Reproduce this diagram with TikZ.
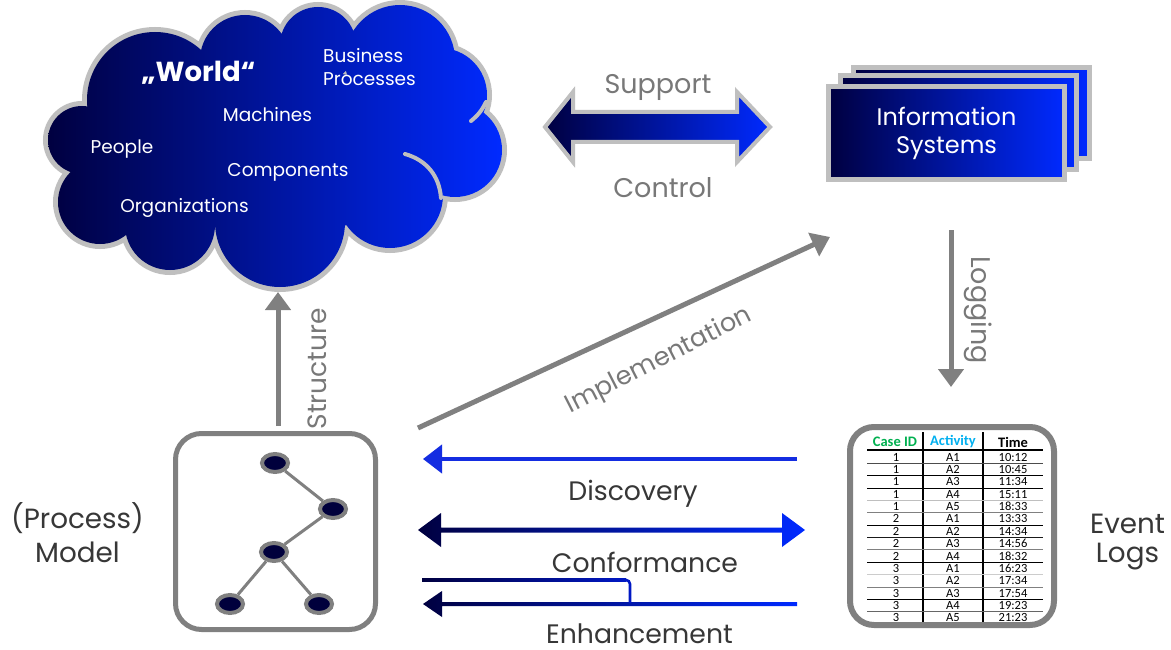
\documentclass[tikz,border=0pt]{standalone}
\usepackage{fontspec}
\setmainfont{Poppins}
\newfontfamily\tablefont{Carlito}
\usetikzlibrary{arrows.meta,shapes.geometric}

\definecolor{navy}{RGB}{0,0,64}
\definecolor{midblue}{RGB}{0,24,196}
\definecolor{brightblue}{RGB}{0,42,255}
\definecolor{rimgray}{RGB}{191,191,191}
\definecolor{arrowgray}{RGB}{128,128,128}
\definecolor{labelgray}{RGB}{120,120,120}
\definecolor{textdark}{RGB}{55,55,55}
\definecolor{caseGreen}{RGB}{0,176,80}
\definecolor{actCyan}{RGB}{0,176,240}
\definecolor{linkblue}{RGB}{20,45,225}
\definecolor{treefill}{RGB}{0,0,60}

\tikzset{
  gradfill/.style={left color=navy, middle color=midblue, right color=brightblue},
  biglabel/.style={font=\fontsize{26.7}{30}\selectfont, text=textdark, inner sep=0pt},
  sidelabel/.style={font=\fontsize{27.8}{32}\selectfont, text=textdark, inner sep=0pt},
  graylabel/.style={font=\fontsize{27}{30}\selectfont, text=labelgray, inner sep=0pt},
  cloudtext/.style={font=\fontsize{18.5}{22}\selectfont, text=white, inner sep=0pt},
  grayarrow/.style={draw=arrowgray, line width=5pt, -{Triangle[width=25pt,length=18pt]}},
  treenode/.style={ellipse, fill=treefill, draw=arrowgray, line width=4pt,
    minimum width=26pt, minimum height=18pt, inner sep=0pt},
  treeedge/.style={draw=arrowgray, line width=3pt},
  cellhead/.style={font=\tablefont\bfseries\fontsize{14.5}{16}\selectfont, inner sep=0pt},
  cell/.style={font=\tablefont\fontsize{12.5}{14}\selectfont, inner sep=0pt},
}

\def\cloudshape{
  (82,140) circle[radius=34]
  (100,202) circle[radius=42]
  (170,225) circle[radius=45]
  (280,222) circle[radius=65]
  (390,195) circle[radius=53]
  (455,150) circle[radius=47]
  (440,95) circle[radius=47]
  (400,60) circle[radius=55]
  (318,45) circle[radius=38]
  (245,60) circle[radius=45]
  (155,100) circle[radius=68]
  (285,150) ellipse[x radius=180, y radius=80]
}

\begin{document}
\begin{tikzpicture}[x=1pt,y=-1pt]
\useasboundingbox[fill=white] (0,0) rectangle (1171,650);

% ---------- the "World" cloud ----------
\draw[rimgray, line width=10pt] \cloudshape;
\shade[gradfill] \cloudshape;
\draw[rimgray, line width=4pt, line cap=round] (405,154) to[bend left=35] (441,198);
\draw[rimgray, line width=4pt, line cap=round] (486,102) to[bend left=12] (471,121);
\coordinate (cloudbase) at (278,292);

\node[font=\fontsize{27.5}{34}\selectfont\bfseries, text=white, inner sep=0pt, anchor=base] (world) at (198.5,82) {„World“};
\node[cloudtext, anchor=base west] (bp1) at (323,63) {Business};
\node[cloudtext, anchor=base west] (bp2) at (323,86) {Processes};
\node[cloudtext, anchor=base] (machines) at (267.5,122) {Machines};
\node[cloudtext, anchor=base] (people) at (122,154) {People};
\node[cloudtext, anchor=base] (components) at (288,177) {Components};
\node[cloudtext, anchor=base] (orgs) at (184.5,213) {Organizations};

% ---------- support / control block arrow ----------
\shadedraw[gradfill, draw=rimgray, line width=4pt, line join=miter]
  (545,127) -- (573,92) -- (573,112) -- (737,112) -- (737,92) -- (770,127)
  -- (737,162) -- (737,142) -- (573,142) -- (573,162) -- cycle;
\node[graylabel, anchor=base] (support) at (658,94) {Support};
\node[graylabel, anchor=base] (control) at (663,197) {Control};

% ---------- stack of information systems ----------
\shadedraw[gradfill, draw=rimgray, line width=5pt] (853.5,67.5) rectangle (1089.5,158.5);
\shadedraw[gradfill, draw=rimgray, line width=5pt] (840.5,75.5) rectangle (1076.5,169.5);
\node[gradfill, draw=rimgray, line width=5pt, minimum width=236pt, minimum height=93pt,
      text=white, align=center, font=\fontsize{24}{28}\selectfont, inner sep=0pt]
      (is) at (946.5,133) {Information\\Systems};

% ---------- process model ----------
\node[draw=arrowgray, line width=5pt, rounded corners=26pt,
      minimum width=200pt, minimum height=196pt] (model) at (275.5,531.5) {};
\node[treenode] (t1) at (275,463) {};
\node[treenode] (t2) at (333,509) {};
\node[treenode] (t3) at (274,552) {};
\node[treenode] (t4) at (230,604) {};
\node[treenode] (t5) at (319,604) {};
\draw[treeedge] (t1) -- (t2);
\draw[treeedge] (t2) -- (t3);
\draw[treeedge] (t3) -- (t4);
\draw[treeedge] (t3) -- (t5);
\node[sidelabel, anchor=base] (procA) at (77.5,528) {(Process)};
\node[sidelabel, anchor=base] (procB) at (77.5,562) {Model};

% ---------- event log table ----------
\node[cellhead, text=caseGreen] (hcase) at (895,442) {Case ID};
\node[cellhead, text=actCyan] (hact) at (953,442) {Activity};
\node[cellhead, text=black] (htime) at (1013,442) {Time};
\draw[black, line width=1.8pt] (867,450) -- (1043,450);
\draw[black, line width=1.4pt] (923,432) -- (923,622);
\draw[black, line width=1.4pt] (983,432) -- (983,622);
\foreach \c/\a/\t [count=\i] in {1/A1/10:12, 1/A2/10:45, 1/A3/11:34, 1/A4/15:11, 1/A5/18:33,
    2/A1/13:33, 2/A2/14:34, 2/A3/14:56, 2/A4/18:32, 3/A1/16:23, 3/A2/17:34,
    3/A3/17:54, 3/A4/19:23, 3/A5/21:23} {
  \node[cell] at (896,{457+12.38*(\i-1)}) {\c};
  \node[cell] at (953,{457+12.38*(\i-1)}) {\a};
  \node[cell] at (1013,{457+12.38*(\i-1)}) {\t};
}
\foreach \i/\col in {1/black!70, 2/black, 3/black, 4/black!25, 5/black!50, 6/black,
    7/black!90, 8/black!50, 9/black, 10/black!20, 11/black!50, 12/black, 13/black!60} {
  \draw[\col, line width=0.9pt] (867,{463.2+12.38*(\i-1)}) -- (1043,{463.2+12.38*(\i-1)});
}
\node[draw=arrowgray, line width=6pt, rounded corners=24pt,
      minimum width=204pt, minimum height=198pt] (log) at (952,526) {};
\node[sidelabel, anchor=base] (evA) at (1127.5,533) {Event};
\node[sidelabel, anchor=base] (evB) at (1127.5,562) {Logs};

% ---------- gray relations ----------
\coordinate (structStart) at (278,426);
\draw[grayarrow] (structStart) -- (cloudbase);
\node[graylabel, font=\fontsize{26.5}{30}\selectfont, rotate=90] (structure) at (317,369) {Structure};

\coordinate (implStart) at (418,428);
\coordinate (implEnd) at (830,237);
\draw[grayarrow] (implStart) -- (implEnd);
\node[graylabel, font=\fontsize{25.5}{28}\selectfont, rotate=27] (impl) at (659,361) {Implementation};

\coordinate (logStart) at (951,230);
\coordinate (logEnd) at (951,387);
\draw[grayarrow] (logStart) -- (logEnd);
\node[graylabel, rotate=-90] (logging) at (978,310) {Logging};

% ---------- discovery ----------
\coordinate (discFrom) at (797,459);
\coordinate (discTo) at (423,459);
\draw[linkblue, line width=4pt, -{Triangle[width=28pt,length=19pt]}] (discFrom) -- (discTo);
\node[biglabel, anchor=base] (discovery) at (633,500) {Discovery};

% ---------- conformance ----------
\shade[gradfill] (418,530) -- (441,513) -- (441,527.5) -- (782,527.5) -- (782,513)
  -- (805,530) -- (782,547) -- (782,532.5) -- (441,532.5) -- (441,547) -- cycle;
\node[biglabel, anchor=base] (conformance) at (645,572) {Conformance};

% ---------- enhancement ----------
\shade[gradfill] (423,604) -- (442,591) -- (442,602) -- (797,602) -- (797,606)
  -- (442,606) -- (442,617) -- cycle;
\shade[left color=navy, right color=midblue] (422,578.7) rectangle (626,581.3);
\draw[midblue, line width=2.6pt, rounded corners=4pt] (625,580) -- (630,580) -- (630,603);
\node[biglabel, anchor=base] (enhancement) at (639.5,643) {Enhancement};
\end{tikzpicture}
\end{document}
